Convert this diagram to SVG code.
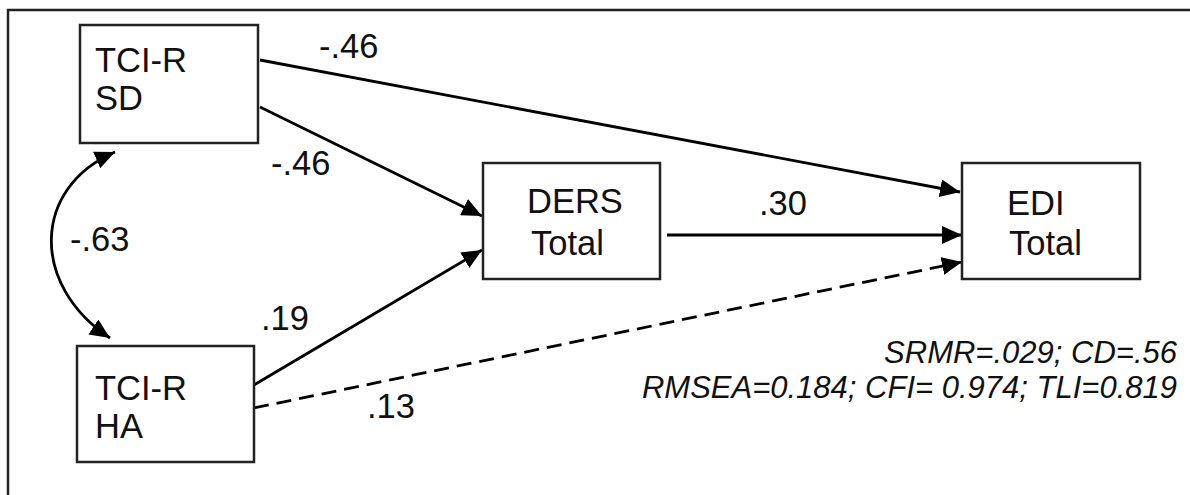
<svg xmlns="http://www.w3.org/2000/svg" width="1190" height="495" viewBox="0 0 1190 495">
  <style>
    .box { fill: #fff; stroke: #222; stroke-width: 2.5; }
    .lbl { font-family: "Liberation Sans", Arial, sans-serif; font-size: 34.5px; fill: #111; }
    .fit { font-family: "Liberation Sans", Arial, sans-serif; font-size: 31px; font-style: italic; fill: #111; text-anchor: end; }
    .edge { fill: none; stroke: #000; stroke-width: 2.8; marker-end: url(#arrow); }
  </style>
  <defs>
    <marker id="arrow" viewBox="0 0 20 18" refX="20" refY="9" markerWidth="20" markerHeight="18" markerUnits="userSpaceOnUse" orient="auto-start-reverse">
      <path d="M0,0 L20,9 L0,18 Z" fill="#000"/>
    </marker>
  </defs>
  <rect width="1190" height="495" fill="#fff"/>
  <!-- frame -->
  <path d="M8,495 V10 H1190" fill="none" stroke="#222" stroke-width="2.5"/>

  <g id="connectors">
    <path class="edge" d="M260,60 L960,192"/>
    <path class="edge" d="M260,107 L482,216"/>
    <path class="edge" d="M254,385 L482,250"/>
    <path class="edge" d="M667,235 L962,235"/>
    <path class="edge" d="M254,408 L962,262" stroke-dasharray="15 8"/>
    <path class="edge" d="M115,152 C32,188 30,285 110,338" marker-start="url(#arrow)"/>
    <text class="lbl" x="319" y="58">-.46</text>
    <text class="lbl" x="271" y="175">-.46</text>
    <text class="lbl" x="70" y="251">-.63</text>
    <text class="lbl" x="261" y="330">.19</text>
    <text class="lbl" x="367" y="418">.13</text>
    <text class="lbl" x="759" y="215">.30</text>
  </g>

  <g id="tci-sd">
    <rect class="box" x="80" y="25" width="178" height="118"/>
    <text class="lbl" x="95" y="72">TCI-R</text>
    <text class="lbl" x="95" y="110">SD</text>
  </g>
  <g id="tci-ha">
    <rect class="box" x="77" y="346" width="177" height="116"/>
    <text class="lbl" x="95" y="400">TCI-R</text>
    <text class="lbl" x="95" y="438">HA</text>
  </g>
  <g id="ders">
    <rect class="box" x="483" y="163" width="177" height="116"/>
    <text class="lbl" x="527" y="213">DERS</text>
    <text class="lbl" x="531" y="255">Total</text>
  </g>
  <g id="edi">
    <rect class="box" x="962" y="163" width="178" height="116"/>
    <text class="lbl" x="1007" y="215">EDI</text>
    <text class="lbl" x="1009" y="255">Total</text>
  </g>

  <g id="fit-indices">
    <text class="fit" x="1177" y="363">SRMR=.029; CD=.56</text>
    <text class="fit" x="1177" y="398">RMSEA=0.184; CFI= 0.974; TLI=0.819</text>
  </g>
</svg>
